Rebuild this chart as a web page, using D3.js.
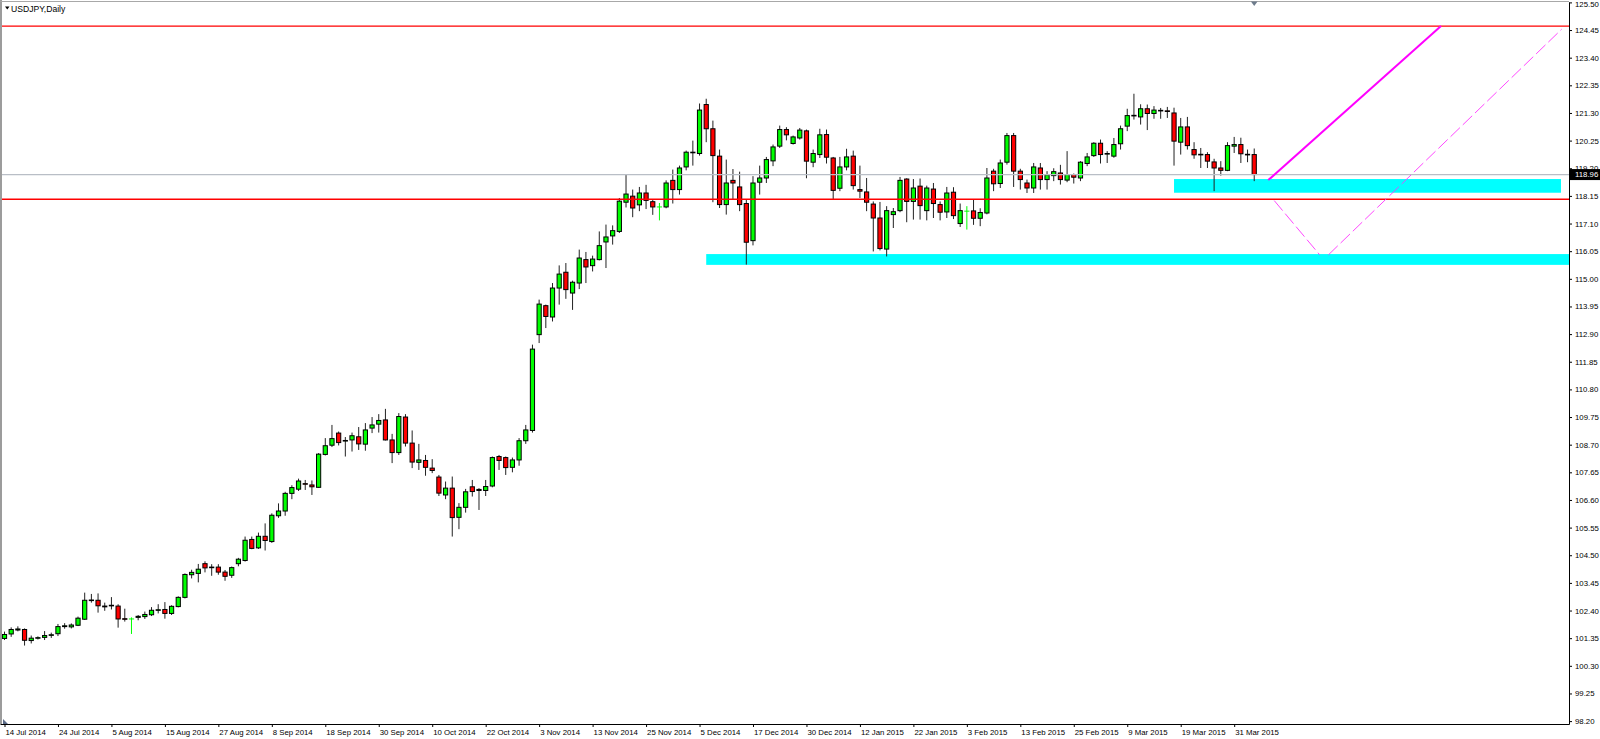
<!DOCTYPE html>
<html><head><meta charset="utf-8">
<script src="https://cdn.jsdelivr.net/npm/d3@7"></script>
<style>
html,body{margin:0;padding:0;background:#fff;overflow:hidden}
svg{display:block}
text{font-family:"Liberation Sans",Arial,sans-serif}
</style></head><body>
<svg id="chart" width="1600" height="739"></svg>
<script>
// ---------- data ----------
const symbolTitle = "USDJPY,Daily";
const dateTickLabels = ["14 Jul 2014","24 Jul 2014","5 Aug 2014","15 Aug 2014","27 Aug 2014","8 Sep 2014","18 Sep 2014","30 Sep 2014","10 Oct 2014","22 Oct 2014","3 Nov 2014","13 Nov 2014","25 Nov 2014","5 Dec 2014","17 Dec 2014","30 Dec 2014","12 Jan 2015","22 Jan 2015","3 Feb 2015","13 Feb 2015","25 Feb 2015","9 Mar 2015","19 Mar 2015","31 Mar 2015"];
const dateTickStep = 8; // one date label every 8 bars
const priceTicks = [125.50,124.45,123.40,122.35,121.30,120.25,119.20,118.15,117.10,116.05,115.00,113.95,112.90,111.85,110.80,109.75,108.70,107.65,106.60,105.55,104.50,103.45,102.40,101.35,100.30,99.25,98.20];

const opens = [101.34,101.51,101.66,101.68,101.26,101.35,101.38,101.46,101.52,101.79,101.78,101.84,102.07,102.78,102.79,102.57,102.58,102.57,102.09,102.08,
102.14,102.17,102.24,102.41,102.44,102.29,102.55,102.90,103.76,103.81,104.18,104.04,104.05,103.86,103.74,104.18,104.30,105.10,104.78,105.22,
105.02,106.00,106.18,106.85,107.01,107.22,107.17,107.08,108.33,108.68,109.14,108.84,108.88,109.00,108.72,109.33,109.48,109.64,108.88,108.40,
109.75,108.76,108.03,108.10,107.81,107.47,106.79,107.05,105.94,106.32,107.10,106.96,106.96,107.13,108.25,108.21,107.84,108.12,108.85,109.24,
112.88,113.98,113.55,114.65,115.25,114.46,114.84,115.73,115.50,115.73,116.40,116.63,116.80,117.91,118.14,117.81,118.26,117.93,117.73,117.73,
118.74,118.39,119.25,119.80,119.76,121.62,120.70,119.66,117.82,118.74,118.49,117.86,116.45,118.67,118.83,119.48,120.04,120.67,120.14,120.35,
120.62,119.43,119.72,120.48,119.59,118.44,119.25,119.66,118.39,118.30,117.84,117.31,116.13,117.44,117.59,118.79,117.94,118.52,117.59,118.41,
117.82,117.54,118.29,117.10,117.57,117.58,117.30,117.50,119.09,118.62,119.43,120.44,119.09,118.64,118.45,119.21,118.77,118.92,119.02,118.75,
118.96,118.83,119.38,119.68,120.15,119.74,119.66,120.13,120.80,121.19,121.15,121.46,121.28,121.38,121.38,121.30,120.19,120.77,119.91,119.73,
119.72,119.44,119.21,119.12,120.04,120.10,119.71,119.72];
const highs = [101.60,101.76,101.80,101.72,101.45,101.42,101.62,101.56,101.89,101.92,101.91,102.17,103.08,103.03,103.05,102.70,102.91,102.64,102.47,102.14,
102.23,102.36,102.53,102.64,102.72,102.60,102.94,103.81,103.95,104.17,104.27,104.16,104.16,103.94,104.07,104.40,105.21,105.21,105.36,105.71,
106.09,106.47,106.91,107.16,107.41,107.36,107.34,108.38,108.95,109.45,109.20,108.99,109.16,109.37,109.52,109.75,109.86,110.06,109.11,109.90,
109.86,109.24,108.73,108.31,108.15,107.55,107.30,107.49,106.48,107.02,107.36,107.05,107.36,108.25,108.31,108.25,108.21,108.95,109.45,112.50,
114.21,114.02,114.84,115.51,115.60,114.93,116.11,116.02,115.88,116.80,117.06,117.03,118.07,118.96,118.39,118.49,118.57,118.01,117.88,118.74,
119.15,119.30,119.87,120.25,121.66,121.84,121.01,119.91,119.53,119.17,119.07,118.01,118.90,119.30,119.63,120.10,120.82,120.76,120.44,120.73,
120.67,119.91,120.70,120.67,119.63,119.63,119.94,119.87,119.30,118.83,117.94,117.92,117.76,117.69,118.87,118.82,118.79,118.81,118.54,118.64,
117.94,118.49,118.48,117.86,117.76,118.03,117.68,119.21,119.18,119.53,120.54,120.54,119.18,118.77,119.40,119.40,119.09,119.20,119.33,119.85,
119.00,119.47,119.78,120.19,120.29,119.85,120.35,120.82,121.46,122.03,121.63,121.62,121.56,121.49,121.53,121.50,121.11,121.15,120.19,119.97,
119.81,119.56,119.47,120.19,120.39,120.36,119.91,119.95];
const lows = [101.28,101.40,101.61,101.07,101.15,101.30,101.28,101.36,101.43,101.71,101.72,101.81,102.04,102.70,102.32,102.39,102.44,101.75,101.98,101.51,
102.03,102.08,102.19,102.29,102.09,102.23,102.52,102.86,103.62,103.47,103.85,103.72,103.76,103.53,103.64,104.08,104.26,104.73,104.74,104.68,
104.97,105.92,106.00,106.63,106.94,106.98,106.79,107.07,108.29,108.61,108.67,108.25,108.44,108.50,108.47,109.14,109.16,108.86,108.00,108.31,
108.63,107.81,107.74,107.52,107.62,106.75,106.63,105.21,105.49,106.12,106.73,106.22,106.75,107.08,107.74,107.55,107.65,107.90,108.73,109.16,
112.56,113.13,113.38,114.02,114.24,113.82,114.61,114.84,115.28,115.70,115.41,116.30,116.74,117.71,117.34,117.57,117.65,117.43,117.22,117.68,
117.86,118.20,119.12,119.30,119.68,120.19,117.91,117.69,117.44,118.01,117.57,115.54,116.27,118.20,118.64,119.28,119.97,120.26,120.10,120.29,
118.82,119.24,119.59,119.38,118.03,118.33,119.12,118.39,118.07,117.57,116.04,116.08,115.85,116.93,117.53,117.15,117.25,117.25,117.22,117.31,
117.22,117.31,117.27,116.97,116.87,117.05,117.00,117.45,118.33,118.45,119.34,118.49,118.39,118.26,118.26,118.39,118.39,118.71,118.58,118.67,
118.62,118.71,119.28,119.63,119.38,119.40,119.60,119.91,120.61,121.05,120.86,120.65,121.08,121.08,121.11,119.30,119.72,119.91,119.56,119.21,
119.21,118.33,118.92,119.09,119.78,119.40,119.43,118.71];
const closes = [101.49,101.68,101.70,101.27,101.35,101.37,101.45,101.48,101.79,101.82,101.85,102.11,102.79,102.80,102.58,102.54,102.60,102.08,102.07,102.08,
102.18,102.25,102.41,102.43,102.29,102.56,102.90,103.77,103.85,103.97,104.02,104.05,103.86,103.70,104.03,104.35,105.07,104.76,105.22,105.06,
106.02,106.18,106.85,107.07,107.32,107.20,107.10,108.34,108.66,108.93,108.78,108.86,109.04,108.73,109.26,109.45,109.62,108.88,108.40,109.77,
108.76,108.04,108.12,107.84,107.72,106.86,107.05,105.93,106.32,106.91,106.92,107.00,107.11,108.21,108.10,107.83,108.12,108.85,109.26,112.33,
114.04,113.57,114.65,115.18,114.59,114.87,115.79,115.45,115.75,116.26,116.59,116.83,117.95,118.22,117.69,118.26,117.98,117.73,117.73,118.64,
118.39,119.21,119.81,119.81,121.41,120.70,119.68,117.82,118.64,118.64,117.82,116.39,118.64,118.83,119.53,120.01,120.67,120.47,120.39,120.65,
119.47,119.76,120.47,119.62,118.36,119.25,119.63,118.54,118.33,117.91,117.31,116.15,117.59,117.55,118.74,117.94,118.45,117.78,118.45,117.86,
117.53,118.26,117.40,117.59,117.57,117.30,117.52,118.83,118.61,119.40,120.44,119.09,118.77,118.45,119.25,118.77,118.95,119.07,118.77,118.96,
118.86,119.43,119.63,120.15,119.72,119.76,120.10,120.70,121.20,121.21,121.46,121.28,121.41,121.40,121.36,120.23,120.77,120.06,119.71,119.71,
119.47,119.21,119.12,120.06,120.10,119.75,119.73,118.96];

const redLevels = [124.60, 118.02];
const lastPrice = 118.96;
// cyan zones (bar index from/to, price top/bottom)
const zoneFrom = [175.0, 105.0];
const zoneTo = [232.9, 236.0];
const zoneTop = [118.79, 115.94];
const zoneBottom = [118.27, 115.53];
// magenta projection lines as [barIndex, price] pairs
const solidPath = [[189.1, 118.75], [214.95, 124.60]];
const dashedPaths = [[[190.0, 117.97], [196.8, 115.91]], [[198.1, 115.91], [233.0, 124.48]]];

// ---------- layout ----------
const plotLeft = 0, plotRight = 1569, plotTop = 2, plotBottom = 724;
const firstBarX = 4.5, barStep = 6.683;
const svg = d3.select("#chart");

const x = d3.scaleLinear()
  .domain([(plotLeft - firstBarX) / barStep, (plotRight - firstBarX) / barStep])
  .range([plotLeft, plotRight]);
const y = d3.scaleLinear().domain([98.09, 125.515]).range([plotBottom, plotTop]);

svg.append("rect").attr("width", 1600).attr("height", 739).attr("fill", "#fff");

svg.append("defs").append("clipPath").attr("id", "plotClip")
  .append("rect").attr("x", plotLeft).attr("y", plotTop)
  .attr("width", plotRight - plotLeft).attr("height", plotBottom - plotTop);

const plot = svg.append("g").attr("clip-path", "url(#plotClip)");

// zones (background objects)
plot.selectAll("rect.zone").data(zoneFrom).join("rect").attr("class", "zone")
  .attr("x", (d, k) => x(zoneFrom[k]))
  .attr("width", (d, k) => x(zoneTo[k]) - x(zoneFrom[k]))
  .attr("y", (d, k) => y(zoneTop[k]))
  .attr("height", (d, k) => y(zoneBottom[k]) - y(zoneTop[k]))
  .attr("fill", "#00FFFF");

// candles
const bars = d3.range(opens.length);
const bodyW = 4.2;
const cg = plot.append("g");
bars.forEach(i => {
  const o = opens[i], h = highs[i], l = lows[i], c = closes[i];
  const cx = x(i);
  if (o === c) {
    cg.append("line").attr("x1", cx).attr("x2", cx).attr("y1", y(h)).attr("y2", y(l))
      .attr("stroke", "#00FF00").attr("stroke-width", 1);
    cg.append("line").attr("x1", cx - bodyW / 2 - 0.5).attr("x2", cx + bodyW / 2 + 0.5)
      .attr("y1", y(o)).attr("y2", y(o)).attr("stroke", "#00FF00").attr("stroke-width", 1);
    return;
  }
  cg.append("line").attr("x1", cx).attr("x2", cx).attr("y1", y(h)).attr("y2", y(l))
    .attr("stroke", "#222").attr("stroke-width", 1);
  const yt = y(Math.max(o, c)), yb = y(Math.min(o, c));
  cg.append("rect").attr("x", cx - bodyW / 2).attr("width", bodyW)
    .attr("y", yt).attr("height", Math.max(yb - yt, 0.6))
    .attr("fill", c > o ? "#00FF00" : "#FF0000")
    .attr("stroke", "#000").attr("stroke-width", 1);
});

// horizontal levels
plot.selectAll("line.level").data(redLevels).join("line").attr("class", "level")
  .attr("x1", plotLeft).attr("x2", plotRight)
  .attr("y1", d => y(d)).attr("y2", d => y(d))
  .attr("stroke", "#FF0000").attr("stroke-width", 1.4);

plot.append("line")
  .attr("x1", plotLeft).attr("x2", plotRight)
  .attr("y1", y(lastPrice)).attr("y2", y(lastPrice))
  .attr("stroke", "#B9BEC6").attr("stroke-width", 1.2);

// magenta lines
const lineGen = d3.line().x(d => x(d[0])).y(d => y(d[1]));
plot.append("path").attr("d", lineGen(solidPath))
  .attr("fill", "none").attr("stroke", "#FF00FF").attr("stroke-width", 2);
plot.selectAll("path.dash").data(dashedPaths).join("path").attr("class", "dash")
  .attr("d", d => lineGen(d))
  .attr("fill", "none").attr("stroke", "#FF33FF").attr("stroke-width", 0.9)
  .attr("stroke-dasharray", "13,4");

// frame (gray left/top)
svg.append("rect").attr("x", 0).attr("y", 0).attr("width", 2).attr("height", plotBottom)
  .attr("fill", "#9C9C9C");
svg.append("line").attr("x1", 0).attr("x2", plotRight).attr("y1", 1.5).attr("y2", 1.5)
  .attr("stroke", "#A8A8A8").attr("stroke-width", 1);

// title
svg.append("path").attr("d", "M5,6.5 L9.5,6.5 L7.25,9.5 Z").attr("fill", "#000");
svg.append("text").attr("x", 11).attr("y", 11.5).attr("font-size", 8.6)
  .attr("fill", "#000").text(symbolTitle);

// shift marker at last bar
const lx = x(opens.length - 1);
svg.append("path").attr("d", `M${lx - 3.3},1.5 L${lx + 3.3},1.5 L${lx},6 Z`).attr("fill", "#6E7C8C");
svg.append("path").attr("d", `M3,719 L3,724 L8,724 Z`).attr("fill", "#5C6C88");

// ---------- axes ----------
const yAxis = d3.axisRight(y).tickValues(priceTicks).tickFormat(d3.format(".2f"))
  .tickSizeInner(3).tickSizeOuter(0).tickPadding(3);
const ya = svg.append("g").attr("transform", `translate(${plotRight},0)`).call(yAxis);
ya.select(".domain").attr("stroke", "#000");
ya.selectAll(".tick line").attr("stroke", "#000");
ya.selectAll(".tick text").attr("font-size", 7.8).attr("fill", "#000")
  .attr("font-family", "Liberation Sans, Arial, sans-serif");
// keep the topmost price label inside the picture
ya.selectAll(".tick text").filter(d => d === priceTicks[0]).attr("dy", "0.55em");

const xAxis = d3.axisBottom(x)
  .tickValues(dateTickLabels.map((d, k) => k * dateTickStep))
  .tickFormat((d, k) => dateTickLabels[k])
  .tickSizeInner(3).tickSizeOuter(0);
const xa = svg.append("g").attr("transform", `translate(0,${plotBottom})`).call(xAxis);
xa.select(".domain").attr("stroke", "#000");
xa.selectAll(".tick line").attr("stroke", "#000");
xa.selectAll(".tick text").attr("font-size", 7.8).attr("fill", "#000")
  .attr("font-family", "Liberation Sans, Arial, sans-serif")
  .attr("text-anchor", "start").attr("x", 0.5).attr("y", 11).attr("dy", 0);

// current price label
const py = y(lastPrice);
svg.append("rect").attr("x", plotRight + 1).attr("y", py - 5.5).attr("width", 30).attr("height", 11)
  .attr("fill", "#000");
svg.append("text").attr("x", plotRight + 6).attr("y", py).attr("dy", "0.35em")
  .attr("font-size", 7.8).attr("fill", "#fff").text(d3.format(".2f")(lastPrice));
</script>
</body></html>
